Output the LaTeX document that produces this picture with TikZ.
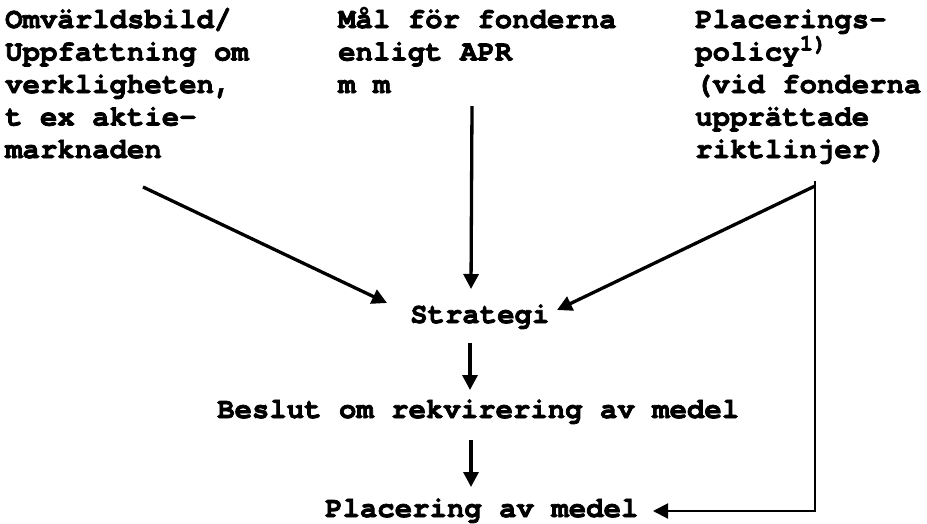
\documentclass[tikz,border=0pt]{standalone}
\usepackage{fontspec}
\setmonofont{TeX Gyre Cursor}[BoldFeatures={FakeBold=2.5}]
\usetikzlibrary{arrows.meta}
\begin{document}
\begin{tikzpicture}[x=1pt,y=-1pt,
  txt/.style={font=\fontsize{29pt}{32.5pt}\selectfont\ttfamily\bfseries, inner sep=0pt, align=left, anchor=base west},
  arr/.style={line width=3.3pt, -{Triangle[length=15pt,width=15pt]}},
  thinarr/.style={line width=2pt, -{Triangle[length=15pt,width=15pt]}}]
\useasboundingbox (0,0) rectangle (927,523);
\node[txt] (a) at (5,158) {Omvärldsbild/\\Uppfattning om\\verkligheten,\\t ex aktie-\\marknaden};
\node[txt] (b) at (338,93) {Mål för fonderna\\enligt APR\\m m};
\node[txt] (c) at (695,158) {Placerings-\\policy{\fontsize{23pt}{23pt}\selectfont\raisebox{10pt}{1)}}\\(vid fonderna\\upprättade\\riktlinjer)};
\node[txt] (s) at (410,323) {Strategi};
\node[txt] (d) at (217,418) {Beslut om rekvirering av medel};
\node[txt] (p) at (325,517) {Placering av medel};
\coordinate (a1) at (143,187);
\coordinate (sL) at (387,303);
\coordinate (b1) at (472,106);
\coordinate (sT) at (471,289);
\coordinate (c1) at (815,186);
\coordinate (sR) at (557,310);
\coordinate (c0) at (815,181);
\coordinate (pR) at (653,511);
\coordinate (s1) at (470,343);
\coordinate (dT) at (470,390);
\coordinate (d1) at (471,440);
\coordinate (pT) at (471,487);
\draw[arr] (a1) -- (sL);
\draw[arr] (b1) -- (sT);
\draw[arr] (c1) -- (sR);
\draw[arr] (s1) -- (dT);
\draw[arr] (d1) -- (pT);
\draw[thinarr] (c0) |- (pR);
\end{tikzpicture}
\end{document}
